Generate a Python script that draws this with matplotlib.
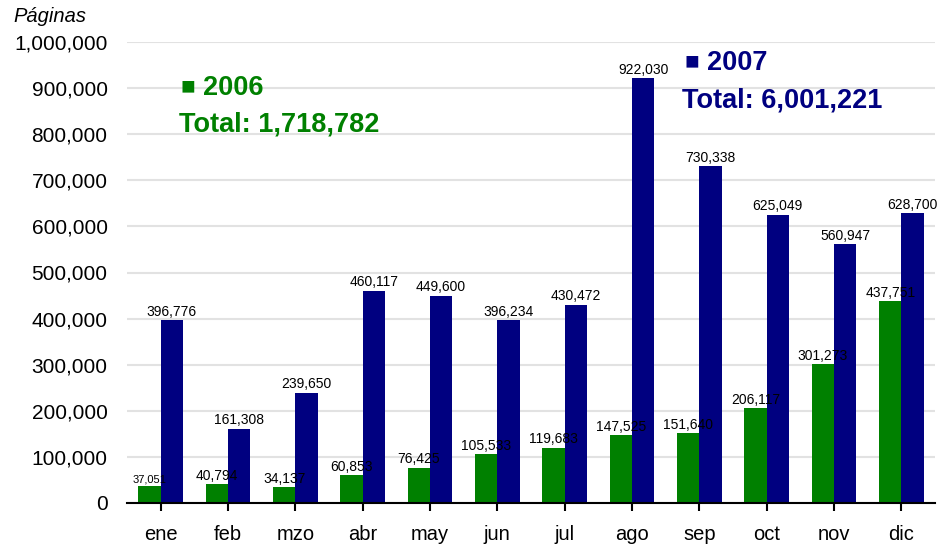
import numpy as np
import matplotlib.pyplot as plt
from matplotlib.ticker import FuncFormatter

plt.rcParams['font.family'] = ['Liberation Sans', 'DejaVu Sans']

months = ['ene', 'feb', 'mzo', 'abr', 'may', 'jun', 'jul', 'ago', 'sep', 'oct', 'nov', 'dic']
pages_2006 = [37051, 40794, 34137, 60853, 76425, 105533, 119683, 147525, 151640, 206117, 301273, 437751]
pages_2007 = [396776, 161308, 239650, 460117, 449600, 396234, 430472, 922030, 730338, 625049, 560947, 628700]

green = '#008000'
navy = '#000080'

fig = plt.figure(figsize=(9.4, 5.48), dpi=100)
ax = fig.add_axes([127 / 940, 1 - 503 / 548, (935 - 127) / 940, (503 - 42) / 548])

x = np.arange(len(months))
w = 0.33
ax.bar(x - w / 2, pages_2006, w, color=green, zorder=2)
ax.bar(x + w / 2, pages_2007, w, color=navy, zorder=2)

for i, v in enumerate(pages_2006):
    fs = 8 if i == 0 else 10
    ax.annotate(f'{v:,}', (x[i] - w / 2, v), xytext=(0, 1), textcoords='offset points',
                ha='center', va='bottom', fontsize=fs, zorder=4)
for i, v in enumerate(pages_2007):
    ax.annotate(f'{v:,}', (x[i] + w / 2, v), xytext=(0, 1), textcoords='offset points',
                ha='center', va='bottom', fontsize=10, zorder=4)

ax.set_xlim(-0.5, 11.5)
ax.set_ylim(0, 1000000)
ax.set_yticks(np.arange(0, 1000001, 100000))
ax.yaxis.set_major_formatter(FuncFormatter(lambda v, p: f'{int(v):,}'))
ax.set_xticks(x)
ax.set_xticklabels(months)
ax.tick_params(axis='y', length=0, pad=14, labelsize=15)
ax.tick_params(axis='x', length=6, width=1.5, pad=10, labelsize=14.5)
ax.grid(axis='y', color='#e2e2e2', linewidth=1.5, zorder=0)
ax.set_axisbelow(True)
for s in ['top', 'right', 'left']:
    ax.spines[s].set_visible(False)
ax.spines['bottom'].set_linewidth(1.5)

fig.text(13 / 940, 1 - 17 / 548, 'Páginas', fontsize=14.5, style='italic', va='center', ha='left')

fig.text(180 / 940, 1 - 87 / 548, '■', fontsize=17.5, color=green, va='center', ha='left')
fig.text(203 / 940, 1 - 88 / 548, '2006', fontsize=19.5, color=green, weight='bold', va='center', ha='left')
fig.text(179 / 940, 1 - 125 / 548, 'Total: 1,718,782', fontsize=19.5, color=green, weight='bold',
         va='center', ha='left')

fig.text(684 / 940, 1 - 62 / 548, '■', fontsize=17.5, color=navy, va='center', ha='left')
fig.text(707 / 940, 1 - 63 / 548, '2007', fontsize=19.5, color=navy, weight='bold', va='center', ha='left')
fig.text(682 / 940, 1 - 101 / 548, 'Total: 6,001,221', fontsize=19.5, color=navy, weight='bold',
         va='center', ha='left')

fig.savefig('out.png', dpi=100)
